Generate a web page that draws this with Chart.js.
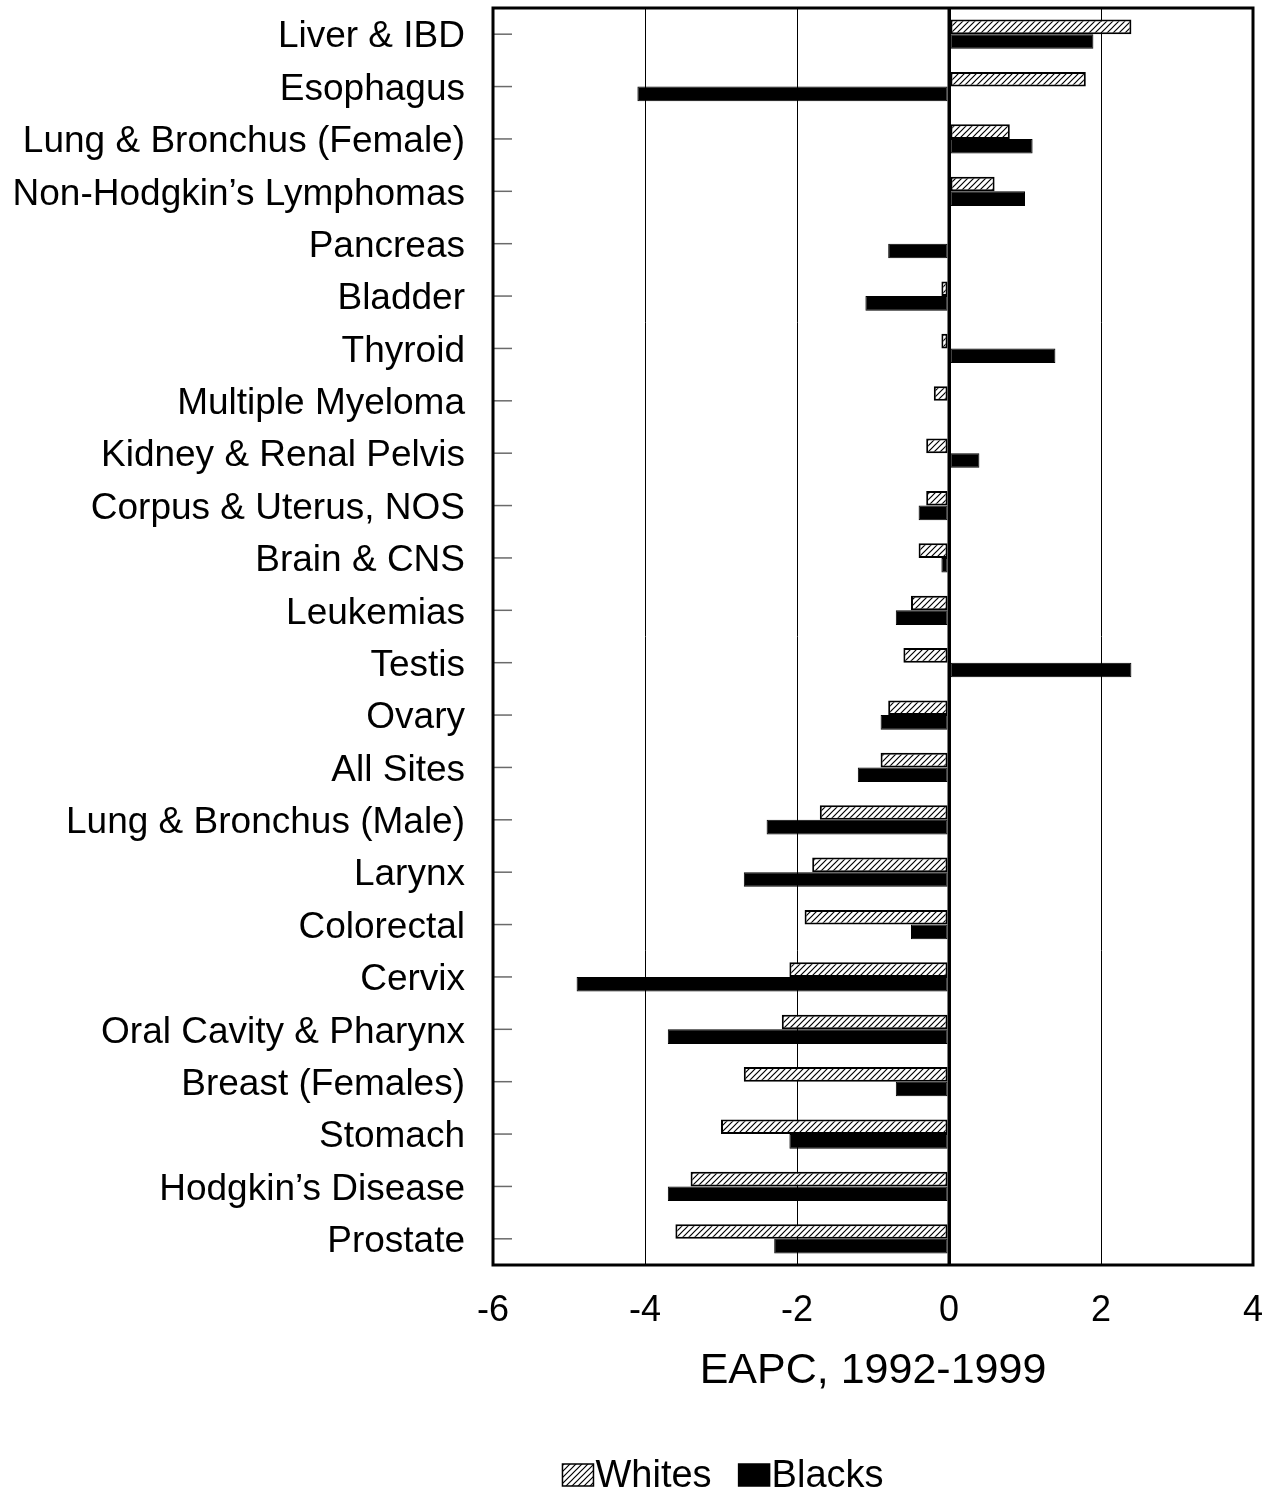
<!DOCTYPE html>
<html>
<head>
<meta charset="utf-8">
<title>EAPC, 1992-1999</title>
<script src="https://cdn.jsdelivr.net/npm/chart.js@4/dist/chart.umd.min.js"></script>
<style>
  html, body { margin: 0; padding: 0; background: #fff; }
  #wrap { width: 1272px; height: 1489px; }
</style>
</head>
<body>
<div id="wrap"><canvas id="chart" width="1272" height="1489"></canvas></div>
<script>
// Cancer sites, top to bottom
const categories = [
  "Liver & IBD", "Esophagus", "Lung & Bronchus (Female)", "Non-Hodgkin\u2019s Lymphomas",
  "Pancreas", "Bladder", "Thyroid", "Multiple Myeloma", "Kidney & Renal Pelvis",
  "Corpus & Uterus, NOS", "Brain & CNS", "Leukemias", "Testis", "Ovary", "All Sites",
  "Lung & Bronchus (Male)", "Larynx", "Colorectal", "Cervix", "Oral Cavity & Pharynx",
  "Breast (Females)", "Stomach", "Hodgkin\u2019s Disease", "Prostate"
];

// Estimated annual percent change, 1992-1999
const whites = [2.4, 1.8, 0.8, 0.6, 0, -0.1, -0.1, -0.2, -0.3, -0.3, -0.4, -0.5,
                -0.6, -0.8, -0.9, -1.7, -1.8, -1.9, -2.1, -2.2, -2.7, -3.0, -3.4, -3.6];
const blacks = [1.9, -4.1, 1.1, 1.0, -0.8, -1.1, 1.4, 0, 0.4, -0.4, -0.1, -0.7,
                2.4, -0.9, -1.2, -2.4, -2.7, -0.5, -4.9, -3.7, -0.7, -2.1, -3.7, -2.3];

const seriesNames = ["Whites", "Blacks"];
const xTicks = [-6, -4, -2, 0, 2, 4];
const xTitle = "EAPC, 1992-1999";

const FONT = "'Liberation Sans', Arial, Helvetica, sans-serif";

// Layout of the plot box and legend
const PLOT_LEFT = 493, PLOT_RIGHT = 1253, PLOT_TOP = 8, PLOT_BOTTOM = 1265;
const X_AXIS_HEIGHT = 150;
const LEGEND_CX = 723, LEGEND_CY = 1475;

// Diagonal hatch fill for the Whites series
function makeHatch() {
  const s = 6;
  const c = document.createElement('canvas');
  c.width = s; c.height = s;
  const g = c.getContext('2d');
  g.fillStyle = '#fff';
  g.fillRect(0, 0, s, s);
  g.strokeStyle = '#000';
  g.lineWidth = 1.2;
  g.beginPath();
  g.moveTo(-1, s + 1); g.lineTo(s + 1, -1);
  g.moveTo(-1, 1); g.lineTo(1, -1);
  g.moveTo(s - 1, s + 1); g.lineTo(s + 1, s - 1);
  g.stroke();
  return g.createPattern(c, 'repeat');
}
const hatch = makeHatch();

// Frame, zero line and inward category ticks
const framePlugin = {
  id: 'frame',
  afterDatasetsDraw(chart) {
    const { ctx, chartArea: a, scales } = chart;
    ctx.save();
    ctx.strokeStyle = '#6a6a6a';
    ctx.lineWidth = 1.5;
    const y = scales.y;
    for (let i = 0; i < categories.length; i++) {
      const py = y.getPixelForTick(i);
      ctx.beginPath();
      ctx.moveTo(a.left, py);
      ctx.lineTo(a.left + 19, py);
      ctx.stroke();
    }
    const x0 = scales.x.getPixelForValue(0);
    ctx.strokeStyle = '#000';
    ctx.lineWidth = 3;
    ctx.beginPath();
    ctx.moveTo(x0, a.top);
    ctx.lineTo(x0, a.bottom);
    ctx.stroke();
    ctx.lineWidth = 3;
    ctx.strokeRect(a.left, a.top, a.right - a.left, a.bottom - a.top);
    ctx.restore();
  }
};

// Compact legend: swatch immediately followed by its label
const legendPlugin = {
  id: 'compactLegend',
  afterDraw(chart) {
    const { ctx } = chart;
    const boxW = 31, boxH = 22, textGap = 2, itemGap = 27;
    ctx.save();
    ctx.font = "38px " + FONT;
    ctx.textBaseline = 'middle';
    ctx.textAlign = 'left';
    const items = chart.data.datasets.map(ds => ({
      text: ds.label, fill: ds.backgroundColor, w: ctx.measureText(ds.label).width
    }));
    let total = 0;
    items.forEach((it, i) => { total += boxW + textGap + it.w + (i ? itemGap : 0); });
    let x = LEGEND_CX - total / 2;
    items.forEach((it, i) => {
      if (i) x += itemGap;
      ctx.fillStyle = it.fill;
      ctx.fillRect(x, LEGEND_CY - boxH / 2, boxW, boxH);
      ctx.strokeStyle = '#000';
      ctx.lineWidth = 1.5;
      ctx.strokeRect(x, LEGEND_CY - boxH / 2, boxW, boxH);
      x += boxW + textGap;
      ctx.fillStyle = '#000';
      ctx.fillText(it.text, x, LEGEND_CY + 2);
      x += it.w;
    });
    ctx.restore();
  }
};

new Chart(document.getElementById('chart'), {
  type: 'bar',
  data: {
    labels: categories,
    datasets: [
      {
        label: seriesNames[0],
        data: whites,
        backgroundColor: hatch,
        borderColor: '#000',
        borderWidth: 2,
        borderSkipped: false
      },
      {
        label: seriesNames[1],
        data: blacks,
        backgroundColor: '#000',
        borderColor: '#000',
        borderWidth: 1,
        borderSkipped: false
      }
    ]
  },
  options: {
    indexAxis: 'y',
    responsive: false,
    animation: false,
    devicePixelRatio: 1,
    categoryPercentage: 0.56,
    barPercentage: 1.0,
    layout: {
      padding: {
        top: PLOT_TOP,
        right: 1272 - PLOT_RIGHT,
        left: 0,
        bottom: 1489 - PLOT_BOTTOM - X_AXIS_HEIGHT
      }
    },
    plugins: {
      tooltip: { enabled: false },
      legend: { display: false }
    },
    scales: {
      x: {
        type: 'linear',
        min: xTicks[0],
        max: xTicks[xTicks.length - 1],
        afterBuildTicks(scale) {
          scale.ticks = xTicks.map(v => ({ value: v }));
        },
        afterFit(scale) {
          scale.height = X_AXIS_HEIGHT;
          scale.paddingLeft = 0;
          scale.paddingRight = 0;
        },
        grid: {
          color: '#000',
          lineWidth: ctx => (ctx.tick && ctx.tick.value === 0 ? 3 : 1),
          drawTicks: false
        },
        border: { display: false },
        ticks: {
          color: '#000',
          font: { family: FONT, size: 36 },
          padding: 24
        },
        title: {
          display: true,
          text: xTitle,
          color: '#000',
          font: { family: FONT, size: 43 },
          padding: { top: 2, bottom: 18 }
        }
      },
      y: {
        type: 'category',
        afterFit(scale) {
          scale.width = PLOT_LEFT;
          scale.paddingTop = 0;
          scale.paddingBottom = 0;
        },
        grid: { display: false, drawTicks: false },
        border: { display: false },
        ticks: {
          color: '#000',
          font: { family: FONT, size: 37 },
          padding: 28,
          labelOffset: 3,
          autoSkip: false
        }
      }
    }
  },
  plugins: [framePlugin, legendPlugin]
});
</script>
</body>
</html>
